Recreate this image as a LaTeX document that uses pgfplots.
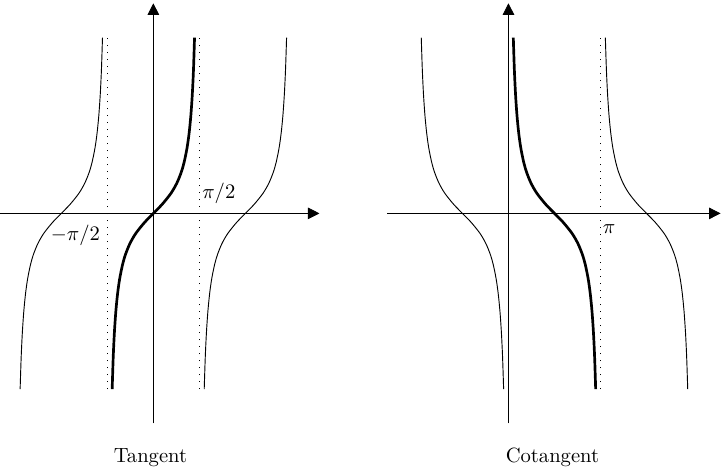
\documentclass[border=0pt]{standalone}
\usepackage{pgfplots}
\pgfplotsset{compat=1.18}
\usetikzlibrary{arrows.meta}
\begin{document}
\begin{tikzpicture}
\pgfplotsset{
 trig/.style={x=0.5cm,y=0.5cm, axis lines=middle, xtick=\empty, ytick=\empty,
   ymin=-7.17, ymax=7.17, clip=false,
   axis line style={line width=0.4pt, -{Triangle[length=5.6pt,width=5.6pt]}}},
 asym/.style={black, line width=0.5pt, dash pattern=on 0.5pt off 2.9pt},
 thinb/.style={black, line width=0.45pt, smooth},
 thickb/.style={black, line width=1.3pt, smooth},
}
\begin{axis}[trig, xmin=-5.22, xmax=5.67, at={(0,0)}, anchor=origin]
\addplot[asym] coordinates {(-1.5708,-6) (-1.5708,6)};
\addplot[asym] coordinates {(1.5708,-6) (1.5708,6)};
\addplot[thinb] coordinates {(-4.5472,-6) (-4.5116,-4.913) (-4.4716,-4.072) (-4.4216,-3.341) (-4.3616,-2.733) (-4.2916,-2.235) (-4.1916,-1.743) (-4.0916,-1.398) (-3.9416,-1.030) (-3.7416,-0.684) (-3.4416,-0.309) (-3.1416,0) (-2.8416,0.309) (-2.5416,0.684) (-2.3416,1.030) (-2.1916,1.398) (-2.0916,1.743) (-1.9916,2.235) (-1.9216,2.733) (-1.8616,3.341) (-1.8116,4.072) (-1.7716,4.913) (-1.7360,6)};
\addplot[thickb] coordinates {(-1.4056,-6) (-1.37,-4.913) (-1.33,-4.072) (-1.28,-3.341) (-1.22,-2.733) (-1.15,-2.235) (-1.05,-1.743) (-0.95,-1.398) (-0.8,-1.030) (-0.6,-0.684) (-0.3,-0.309) (0,0) (0.3,0.309) (0.6,0.684) (0.8,1.030) (0.95,1.398) (1.05,1.743) (1.15,2.235) (1.22,2.733) (1.28,3.341) (1.33,4.072) (1.37,4.913) (1.4056,6)};
\addplot[thinb] coordinates {(1.7360,-6) (1.7716,-4.913) (1.8116,-4.072) (1.8616,-3.341) (1.9216,-2.733) (1.9916,-2.235) (2.0916,-1.743) (2.1916,-1.398) (2.3416,-1.030) (2.5416,-0.684) (2.8416,-0.309) (3.1416,0) (3.4416,0.309) (3.7416,0.684) (3.9416,1.030) (4.0916,1.398) (4.1916,1.743) (4.2916,2.235) (4.3616,2.733) (4.4216,3.341) (4.4716,4.072) (4.5116,4.913) (4.5472,6)};
\node[anchor=base west, inner sep=0pt, xshift=1.2pt, yshift=7.3pt] at (axis cs:1.5708,0) {$\pi/2$};
\node[anchor=base east, inner sep=0pt, xshift=-3.4pt, yshift=-13pt] at (axis cs:-1.5708,0) {$-\pi/2$};
\node[anchor=base, inner sep=1.8pt] at (axis cs:-0.1,-8.49) {Tangent};
\end{axis}
\begin{axis}[trig, xmin=-4.13, xmax=7.24, at={(6.06cm,0)}, anchor=origin]
\addplot[asym] coordinates {(3.1416,-6) (3.1416,6)};
\addplot[thinb] coordinates {(-2.9764,6) (-2.9408,4.913) (-2.9008,4.072) (-2.8508,3.341) (-2.7908,2.733) (-2.7208,2.235) (-2.6208,1.743) (-2.5208,1.398) (-2.3708,1.030) (-2.1708,0.684) (-1.8708,0.309) (-1.5708,0) (-1.2708,-0.309) (-0.9708,-0.684) (-0.7708,-1.030) (-0.6208,-1.398) (-0.5208,-1.743) (-0.4208,-2.235) (-0.3508,-2.733) (-0.2908,-3.341) (-0.2408,-4.072) (-0.2008,-4.913) (-0.1652,-6)};
\addplot[thickb] coordinates {(0.1652,6) (0.2008,4.913) (0.2408,4.072) (0.2908,3.341) (0.3508,2.733) (0.4208,2.235) (0.5208,1.743) (0.6208,1.398) (0.7708,1.030) (0.9708,0.684) (1.2708,0.309) (1.5708,0) (1.8708,-0.309) (2.1708,-0.684) (2.3708,-1.030) (2.5208,-1.398) (2.6208,-1.743) (2.7208,-2.235) (2.7908,-2.733) (2.8508,-3.341) (2.9008,-4.072) (2.9408,-4.913) (2.9764,-6)};
\addplot[thinb] coordinates {(3.3068,6) (3.3424,4.913) (3.3824,4.072) (3.4324,3.341) (3.4924,2.733) (3.5624,2.235) (3.6624,1.743) (3.7624,1.398) (3.9124,1.030) (4.1124,0.684) (4.4124,0.309) (4.7124,0) (5.0124,-0.309) (5.3124,-0.684) (5.5124,-1.030) (5.6624,-1.398) (5.7624,-1.743) (5.8624,-2.235) (5.9324,-2.733) (5.9924,-3.341) (6.0424,-4.072) (6.0824,-4.913) (6.1180,-6)};
\node[anchor=base west, inner sep=0pt, xshift=1pt, yshift=-9.7pt] at (axis cs:3.1416,0) {$\pi$};
\node[anchor=base, inner sep=1.8pt] at (axis cs:1.5,-8.49) {Cotangent};
\end{axis}
\path[draw=none] (0,3.585cm) -- (0,3.585cm+1.6pt);
\end{tikzpicture}
\end{document}
